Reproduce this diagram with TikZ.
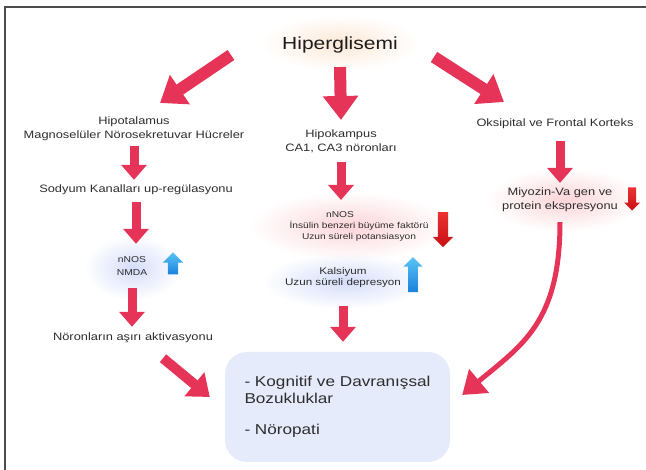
\documentclass[tikz,border=0pt]{standalone}
\usepackage{fontspec}
\setmainfont{Liberation Sans}[FakeStretch=1.2]
\usetikzlibrary{arrows.meta, shapes.arrows, fadings}

\definecolor{pinkred}{RGB}{230,52,88}
\definecolor{txtgray}{RGB}{45,45,45}
\definecolor{titlegray}{RGB}{28,28,28}
\definecolor{boxblue}{RGB}{229,235,250}
\definecolor{glowblue}{RGB}{212,220,250}
\definecolor{glowpink}{RGB}{252,212,216}
\definecolor{glowpeach}{RGB}{252,232,214}
\definecolor{upblue}{RGB}{25,130,220}
\definecolor{uplight}{RGB}{90,195,245}
\definecolor{downred}{RGB}{200,15,20}
\definecolor{downlight}{RGB}{235,50,50}

\tikzfading[name=glowfade, inner color=transparent!0, outer color=transparent!100]

\tikzset{
  lbl/.style={align=center, text=txtgray, inner sep=2pt, font=\fontsize{10.7}{13.8}\selectfont},
  smalllbl/.style={lbl, font=\fontsize{8.5}{11}\selectfont},
  bigpink/.style={draw=pinkred, line width=12pt, -{Triangle[width=34pt,length=24pt]}},
  pinkarr/.style={draw=pinkred, line width=9pt, -{Triangle[width=25pt,length=15pt]}},
  curvearr/.style={draw=pinkred, line width=5pt, -{Triangle[width=30pt,length=22pt]}},
  blueup/.style={single arrow, draw=none, shape border rotate=90,
    top color=uplight, bottom color=upblue},
  reddown/.style={single arrow, draw=none, shape border rotate=270,
    top color=downlight, bottom color=downred}
}

\begin{document}
\begin{tikzpicture}[x=1pt, y=-1pt]
	\useasboundingbox (0,0) rectangle (646,470);
	\draw[line width=1.5pt, black!70] (5,470) |- (646,7);

	% glows
	\fill[glowpeach, path fading=glowfade] (340,43) ellipse [x radius=78pt, y radius=28pt];
	\fill[glowpink, path fading=glowfade] (350,226) ellipse [x radius=100pt, y radius=34pt];
	\fill[glowblue, path fading=glowfade] (345,281) ellipse [x radius=82pt, y radius=28pt];
	\fill[glowblue, path fading=glowfade] (133,268) ellipse [x radius=48pt, y radius=32pt];
	\fill[glowpink, path fading=glowfade] (565,200) ellipse [x radius=78pt, y radius=32pt];

	\node[lbl, text=titlegray, font=\fontsize{17.5}{20}\selectfont] (hip) at (340,45) {Hiperglisemi};

	\node[lbl] (hipot) at (134,129) {Hipotalamus\\Magnoselüler Nörosekretuvar Hücreler};
	\node[lbl] (hipok) at (341,141) {Hipokampus\\CA1, CA3 nöronları};
	\node[lbl] (oks) at (555,124) {Oksipital ve Frontal Korteks};

	\node[lbl] (sod) at (136,190) {Sodyum Kanalları up-regülasyonu};
	\node[smalllbl, font=\fontsize{8.6}{13}\selectfont] (nmda) at (132,265.5) {nNOS\\NMDA};
	\node[lbl] (noron) at (133,338) {Nöronların aşırı aktivasyonu};

	\node[smalllbl] (nnos) at (359,226) {nNOS\hspace*{38pt}\mbox{}\\İnsülin benzeri büyüme faktörü\\Uzun süreli potansiasyon};
	\node[smalllbl, font=\fontsize{9.7}{11.5}\selectfont] (kals) at (343,277.5) {Kalsiyum\\Uzun süreli depresyon};

	\node[lbl] (miy) at (560,200) {Miyozin-Va gen ve\\protein ekspresyonu};

	\node[fill=boxblue, rounded corners=22pt, minimum width=225pt, minimum height=110pt,
		align=left, text=txtgray, font=\fontsize{14.3}{17}\selectfont] (sonuc) at (337.5,407)
		{- Kognitif ve Davranışsal\\Bozukluklar\\[14pt]- Nöropati};

	\node[blueup, inner sep=5pt, single arrow head extend=5pt, minimum height=22pt] (up1) at (173,266) {};
	\node[reddown, inner sep=5pt, single arrow head extend=5pt, minimum height=35pt] (dn1) at (443,227) {};
	\node[blueup, inner sep=4.75pt, single arrow head extend=4.75pt, minimum height=35pt] (up2) at (413,277) {};
	\node[reddown, inner sep=3.8pt, single arrow head extend=3.8pt, minimum height=23pt] (dn2) at (632,197) {};

	\draw[bigpink] ([xshift=-109pt,yshift=-10pt]hip.center) -- ([xshift=26pt,yshift=26pt]hipot.center);
	\draw[bigpink] ([yshift=-22pt]hip.center) -- ([yshift=21pt]hipok.center);
	\draw[bigpink] ([xshift=94pt,yshift=-12pt]hip.center) -- ([xshift=-51pt,yshift=22pt]oks.center);

	\draw[pinkarr, shorten <=3pt, shorten >=3pt] (hipot.south) -- (hipot.south |- sod.north);
	\draw[pinkarr, shorten <=5pt, shorten >=10pt] (sod.south) -- (sod.south |- nmda.north);
	\draw[pinkarr, shorten <=11pt, shorten >=4pt] (nmda.south) -- (nmda.south |- noron.north);
	\draw[pinkarr, shorten <=7pt, shorten >=9pt] (hipok.south) -- (hipok.south |- nnos.north);
	\draw[pinkarr, shorten <=16pt, shorten >=10pt] (kals.south) -- (kals.south |- sonuc.north);
	\draw[pinkarr, shorten <=10pt, shorten >=3pt] (miy.north |- oks.south) -- (miy.north);

	\draw[pinkarr, line width=10pt, -{Triangle[width=30pt,length=20pt]}]
		([xshift=30pt,yshift=-13pt]noron.south) -- ([xshift=-15pt,yshift=10pt]sonuc.west);
	\draw[curvearr] ([yshift=-8pt]miy.south) .. controls +(0,100) and +(60,-50)
		.. ([xshift=12pt,yshift=12pt]sonuc.east);
\end{tikzpicture}
\end{document}
